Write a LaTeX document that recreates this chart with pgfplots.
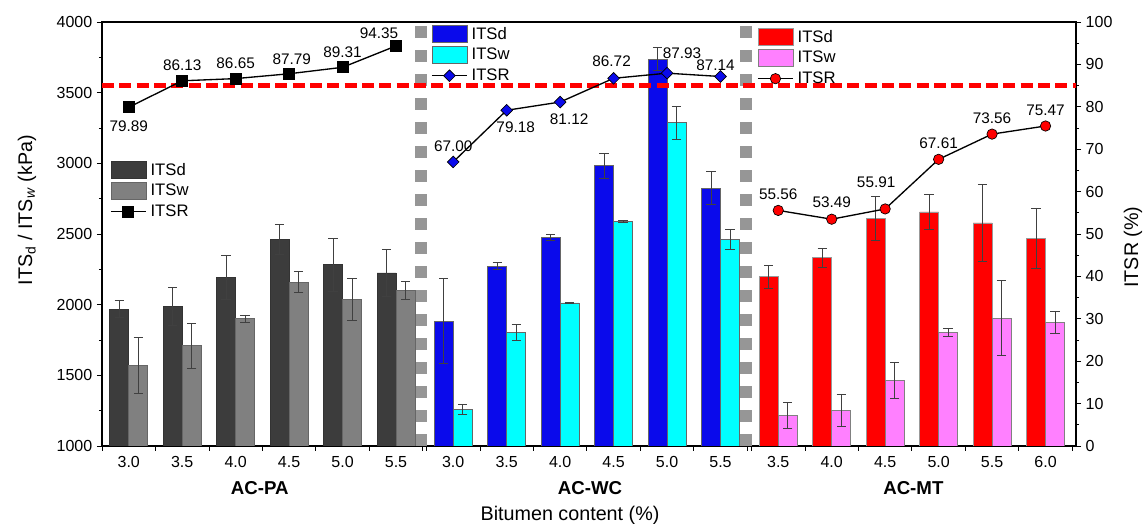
\documentclass[border=0pt]{standalone}
\usepackage{pgfplots}
\pgfplotsset{compat=1.18}
\usepackage{fontspec}
\setmainfont{Liberation Sans}
\definecolor{dgray}{RGB}{60,60,60}
\definecolor{mgray}{RGB}{128,128,128}
\definecolor{myblue}{RGB}{10,10,235}
\definecolor{mycyan}{RGB}{0,255,255}
\definecolor{myred}{RGB}{255,0,0}
\definecolor{mypink}{RGB}{255,128,255}
\definecolor{sepgray}{RGB}{150,150,150}
\newcommand\ftick{\fontsize{12}{14}\selectfont}
\newcommand\fdat{\fontsize{11.5}{13}\selectfont}
\newcommand\fleg{\fontsize{12.5}{14}\selectfont}
\newcommand\fgrp{\fontsize{14}{16}\selectfont\bfseries}
\newcommand\flab{\fontsize{14.8}{17}\selectfont}
\tikzset{dat/.style={font=\fdat, inner sep=0pt, anchor=center}}
\pgfplotsset{
  frame/.style={scale only axis, width=730.5pt, height=318pt,
    at={(76.5pt,58.5pt)}, anchor=south west},
  errs/.style={error bars/.cd, y dir=both, y explicit,
    error bar style={line width=0.6pt, black!75},
    error mark options={rotate=90, line width=0.6pt, black!75, mark size=3.5pt}},
  bars/.style={ybar, bar width=0.355, bar shift=0pt, line width=0.5pt},
  legPAd/.style={legend image code/.code={\draw[fill=dgray,draw=black!80,line width=0.5pt] (0pt,-6.375pt) rectangle (26.25pt,6.375pt);}},
  legPAw/.style={legend image code/.code={\draw[fill=mgray,draw=black!60,line width=0.5pt] (0pt,-6.375pt) rectangle (26.25pt,6.375pt);}},
  legWCd/.style={legend image code/.code={\draw[fill=myblue,draw=black!60,line width=0.5pt] (0pt,-6.375pt) rectangle (26.25pt,6.375pt);}},
  legWCw/.style={legend image code/.code={\draw[fill=mycyan,draw=black!60,line width=0.5pt] (0pt,-6.375pt) rectangle (26.25pt,6.375pt);}},
  legMTd/.style={legend image code/.code={\draw[fill=myred,draw=black!40,line width=0.5pt] (0pt,-6.375pt) rectangle (26.25pt,6.375pt);}},
  legMTw/.style={legend image code/.code={\draw[fill=mypink,draw=black!50,line width=0.5pt] (0pt,-6.375pt) rectangle (26.25pt,6.375pt);}},
  legPAr/.style={legend image code/.code={\draw[mark repeat=2,mark phase=2,black,line width=1pt,mark=square*,mark size=4pt,mark options={fill=black}] plot coordinates {(0pt,0pt) (13.125pt,0pt) (26.25pt,0pt)};}},
  legWCr/.style={legend image code/.code={\draw[mark repeat=2,mark phase=2,black,line width=1pt,mark=square*,mark size=3.1pt,mark options={fill=myblue,rotate=45,line width=0.5pt}] plot coordinates {(0pt,0pt) (13.125pt,0pt) (26.25pt,0pt)};}},
  legMTr/.style={legend image code/.code={\draw[mark repeat=2,mark phase=2,black,line width=1pt,mark=*,mark size=3.9pt,mark options={fill=myred,line width=0.5pt}] plot coordinates {(0pt,0pt) (13.125pt,0pt) (26.25pt,0pt)};}},
  legax/.style={frame, hide axis, xmin=0, xmax=1, ymin=0, ymax=1,
    legend cell align=left,
    legend style={draw=none, fill=none, font=\fleg, inner sep=0pt, row sep=1.3pt,
      column sep=1pt, anchor=north west}},
}
\begin{document}
\begin{tikzpicture}
\useasboundingbox (0,0) rectangle (858.75pt,393pt);
% ---------------- main axis (bars, kPa) ----------------
\begin{axis}[frame, clip mode=individual,
  xmin=-0.5, xmax=17.72, ymin=1000, ymax=4000,
  axis line style={line width=0.8pt, black},
  xtick={-0.5,0.5,1.5,2.5,3.5,4.5,5.5,5.57,6.57,7.57,8.57,9.57,10.57,11.57,11.65,12.65,13.65,14.65,15.65,16.65,17.65},
  xticklabels={},
  extra x ticks={0,1,2,3,4,5,6.07,7.07,8.07,9.07,10.07,11.07,12.15,13.15,14.15,15.15,16.15,17.15},
  extra x tick labels={3.0,3.5,4.0,4.5,5.0,5.5,3.0,3.5,4.0,4.5,5.0,5.5,3.5,4.0,4.5,5.0,5.5,6.0},
  extra x tick style={major tick length=0pt, xticklabel style={yshift=-4.5pt}},
  xtick pos=bottom, ytick pos=left,
  tick align=outside,
  major tick length=3.75pt, minor tick length=2.25pt,
  ytick={1000,1500,2000,2500,3000,3500,4000}, minor y tick num=1,
  tick style={black, line width=0.6pt},
  tick label style={font=\ftick},
  /pgf/number format/1000 sep={}, /pgf/number format/assume math mode=true,
  ylabel={ITS\textsubscript{d} / ITS\textsubscript{\textit{w}} (kPa)},
  ylabel style={at={(axis description cs:-0.077,0.5566)}, anchor=center, font=\flab},
  xlabel={Bitumen content (\%)},
  xlabel style={at={(axis description cs:0.4805,-0.1627)}, anchor=center, font=\flab},
]
% separators
\addplot[sepgray, line width=9pt, dash pattern=on 9pt off 9pt, forget plot] coordinates {(5.47,1000) (5.47,4000)};
\addplot[sepgray, line width=9pt, dash pattern=on 9pt off 9pt, forget plot] coordinates {(11.54,1000) (11.54,4000)};
% AC-PA (ITSd left, ITSw right of each bitumen content)
\addplot[bars, fill=dgray, draw=black!80, errs] coordinates {
 (-0.1775,1967) +- (0,60) (0.8225,1986) +- (0,135) (1.8225,2192) +- (0,155)
 (2.8225,2460) +- (0,105) (3.8225,2282) +- (0,185) (4.8225,2225) +- (0,165)};
\addplot[bars, fill=mgray, draw=black!60, errs] coordinates {
 (0.1775,1569) +- (0,200) (1.1775,1709) +- (0,158) (2.1775,1900) +- (0,27)
 (3.1775,2159) +- (0,73) (4.1775,2036) +- (0,147) (5.1775,2100) +- (0,62)};
% AC-WC
\addplot[bars, fill=myblue, draw=black!60, errs] coordinates {
 (5.8925,1884) +- (0,300) (6.8925,2273) +- (0,23) (7.8925,2474) +- (0,20)
 (8.8925,2983) +- (0,88) (9.8925,3737) +- (0,80) (10.8925,2825) +- (0,118)};
\addplot[bars, fill=mycyan, draw=black!60, errs] coordinates {
 (6.2475,1258) +- (0,33) (7.2475,1801) +- (0,57) (8.2475,2012) +- (0,5)
 (9.2475,2588) +- (0,8) (10.2475,3287) +- (0,116) (11.2475,2462) +- (0,70)};
% AC-MT
\addplot[bars, fill=myred, draw=black!40, errs] coordinates {
 (11.9725,2197) +- (0,80) (12.9725,2332) +- (0,67) (13.9725,2609) +- (0,155)
 (14.9725,2656) +- (0,122) (15.9725,2578) +- (0,275) (16.9725,2469) +- (0,215)};
\addplot[bars, fill=mypink, draw=black!50, errs] coordinates {
 (12.3275,1218) +- (0,90) (13.3275,1254) +- (0,114) (14.3275,1464) +- (0,127)
 (15.3275,1803) +- (0,27) (16.3275,1905) +- (0,265) (17.3275,1874) +- (0,78)};
\node[font=\fgrp] at (axis description cs:0.162,-0.099) {AC-PA};
\node[font=\fgrp] at (axis description cs:0.501,-0.099) {AC-WC};
\node[font=\fgrp] at (axis description cs:0.833,-0.099) {AC-MT};
\end{axis}
% ---------------- ITSR axis (right) ----------------
\begin{axis}[frame,
  xmin=-0.5, xmax=17.72, ymin=0, ymax=100,
  axis y line*=right, axis x line=none,
  axis line style={line width=0.8pt, black},
  ytick={0,10,...,100}, minor y tick num=1,
  tick align=outside,
  major tick length=3.75pt, minor tick length=2.25pt,
  tick style={black, line width=0.6pt},
  tick label style={font=\ftick},
  /pgf/number format/assume math mode=true,
  ylabel={ITSR (\%)},
  ylabel style={at={(axis description cs:1.0585,0.469)}, anchor=center, font=\flab},
]
\addplot[myred, line width=3.6pt, dash pattern=on 9pt off 4pt] coordinates {(-0.5,85) (17.72,85)};
\addplot[black, line width=1pt, mark=square*, mark size=4pt, mark options={fill=black}]
  coordinates {(0,79.89) (1,86.13) (2,86.65) (3,87.79) (4,89.31) (5,94.35)};
\addplot[black, line width=1pt, mark=square*, mark size=3.1pt, mark options={fill=myblue, rotate=45, line width=0.5pt}]
  coordinates {(6.07,67.00) (7.07,79.18) (8.07,81.12) (9.07,86.72) (10.07,87.93) (11.07,87.14)};
\addplot[black, line width=1pt, mark=*, mark size=3.9pt, mark options={fill=myred, line width=0.5pt}]
  coordinates {(12.15,55.56) (13.15,53.49) (14.15,55.91) (15.15,67.61) (16.15,73.56) (17.15,75.47)};
% data labels
\node[dat, yshift=-14.25pt] at (axis cs:0,79.89) {79.89};
\node[dat, yshift=11.5pt] at (axis cs:1,86.13) {86.13};
\node[dat, yshift=11.5pt] at (axis cs:2,86.65) {86.65};
\node[dat, xshift=2pt, yshift=11pt] at (axis cs:3,87.79) {87.79};
\node[dat, yshift=11.5pt] at (axis cs:4,89.31) {89.31};
\node[dat, xshift=-12.75pt, yshift=9.75pt] at (axis cs:5,94.35) {94.35};
\node[dat, yshift=12pt] at (axis cs:6.07,67.00) {67.00};
\node[dat, xshift=6.75pt, yshift=-12.75pt] at (axis cs:7.07,79.18) {79.18};
\node[dat, xshift=6.75pt, yshift=-12.75pt] at (axis cs:8.07,81.12) {81.12};
\node[dat, xshift=-1.5pt, yshift=12.75pt] at (axis cs:9.07,86.72) {86.72};
\node[dat, xshift=11.25pt, yshift=15pt] at (axis cs:10.07,87.93) {87.93};
\node[dat, xshift=-3.75pt, yshift=8.25pt] at (axis cs:11.07,87.14) {87.14};
\node[dat, yshift=12pt] at (axis cs:12.15,55.56) {55.56};
\node[dat, yshift=12.75pt] at (axis cs:13.15,53.49) {53.49};
\node[dat, xshift=-6.75pt, yshift=20.25pt] at (axis cs:14.15,55.91) {55.91};
\node[dat, yshift=12pt] at (axis cs:15.15,67.61) {67.61};
\node[dat, yshift=12pt] at (axis cs:16.15,73.56) {73.56};
\node[dat, yshift=12pt] at (axis cs:17.15,75.47) {75.47};
\end{axis}
% ---------------- legends ----------------
\begin{axis}[legax, legend style={at={(0.0082,0.6745)}}]
\addplot[draw=none, forget plot] coordinates {(0,0)};
\addlegendimage{legPAd}\addlegendentry{ITSd}
\addlegendimage{legPAw}\addlegendentry{ITSw}
\addlegendimage{legPAr}\addlegendentry{ITSR}
\end{axis}
\begin{axis}[legax, legend style={at={(0.3378,0.995)}}]
\addplot[draw=none, forget plot] coordinates {(0,0)};
\addlegendimage{legWCd}\addlegendentry{ITSd}
\addlegendimage{legWCw}\addlegendentry{ITSw}
\addlegendimage{legWCr}\addlegendentry{ITSR}
\end{axis}
\begin{axis}[legax, legend style={at={(0.6725,0.988)}}]
\addplot[draw=none, forget plot] coordinates {(0,0)};
\addlegendimage{legMTd}\addlegendentry{ITSd}
\addlegendimage{legMTw}\addlegendentry{ITSw}
\addlegendimage{legMTr}\addlegendentry{ITSR}
\end{axis}
\end{tikzpicture}
\end{document}
